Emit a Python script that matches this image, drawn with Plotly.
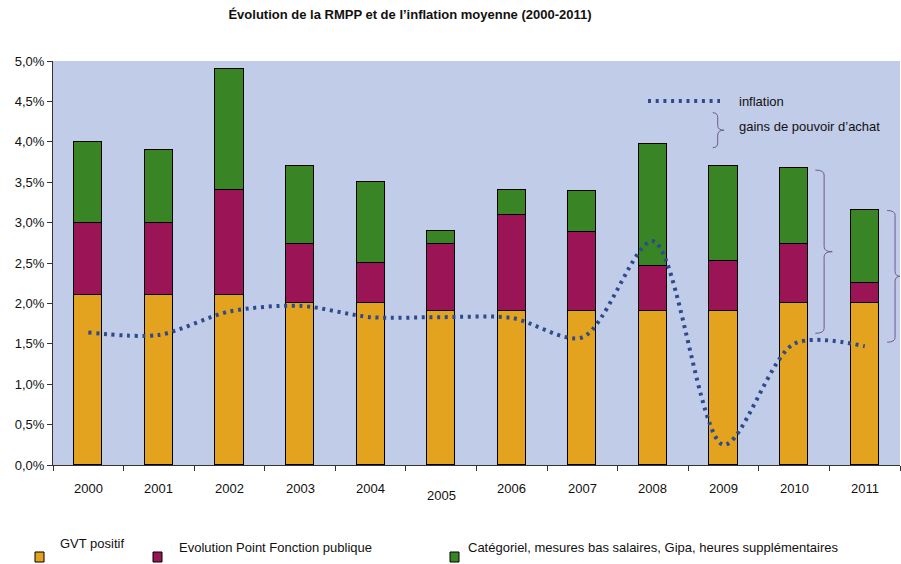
import plotly.graph_objects as go

years = [2000, 2001, 2002, 2003, 2004, 2005, 2006, 2007, 2008, 2009, 2010, 2011]
year_labels = [str(y) for y in years]
gvt = [2.1, 2.1, 2.1, 2.0, 2.0, 1.9, 1.9, 1.9, 1.9, 1.9, 2.0, 2.0]
point_fp = [0.9, 0.9, 1.3, 0.74, 0.5, 0.84, 1.2, 0.98, 0.56, 0.63, 0.73, 0.25]
categoriel = [1.0, 0.9, 1.5, 0.96, 1.0, 0.16, 0.3, 0.51, 1.51, 1.17, 0.94, 0.9]
inflation = [1.64, 1.61, 1.9, 1.97, 1.83, 1.83, 1.82, 1.58, 2.77, 0.25, 1.5, 1.47]
y_ticks = [0, 0.5, 1.0, 1.5, 2.0, 2.5, 3.0, 3.5, 4.0, 4.5, 5.0]
y_tick_labels = ["0,0%", "0,5%", "1,0%", "1,5%", "2,0%", "2,5%", "3,0%", "3,5%", "4,0%", "4,5%", "5,0%"]
series_names = ["GVT positif", "Evolution Point Fonction publique",
                "Catégoriel, mesures bas salaires, Gipa, heures supplémentaires"]
title_text = "Évolution de la RMPP et de l’inflation moyenne (2000-2011)"

C_GVT = "#E3A31E"
C_PT = "#9B1456"
C_CAT = "#398526"
C_INF = "#2E4A8C"
C_BRACE = "#6E5A8E"
BG = "#C1CCE9"
FONT = "Liberation Sans, Arial, sans-serif"

W, H = 901, 564
L, R, T, B = 53, 900, 61, 465  # plot area in page pixels


def px(xp):
    return (xp - L) / (R - L)


def py(yp):
    return (B - yp) / (B - T)


fig = go.Figure()
for vals, col, name in [(gvt, C_GVT, series_names[0]), (point_fp, C_PT, series_names[1]),
                        (categoriel, C_CAT, series_names[2])]:
    fig.add_trace(go.Bar(x=years, y=vals, name=name, width=0.4,
                         marker=dict(color=col, line=dict(color="black", width=1)),
                         showlegend=False))

DOT = "3px,4.7px"
fig.add_trace(go.Scatter(x=years, y=inflation, mode="lines", name="inflation",
                         line=dict(color=C_INF, width=4, dash=DOT, shape="spline", smoothing=0.85),
                         showlegend=False))


def brace(x0, xv, xt, ytop, ybot, r):
    ym = (ytop + ybot) / 2
    return (f"M {x0},{ytop} Q {xv},{ytop} {xv},{ytop - r} L {xv},{ym + r} "
            f"Q {xv},{ym} {xt},{ym} Q {xv},{ym} {xv},{ym - r} L {xv},{ybot + r} "
            f"Q {xv},{ybot} {x0},{ybot}")


shapes = []
shapes.append(dict(type="path", xref="x", yref="y",
                   path=brace(2010.3, 2010.425, 2010.54, 3.65, 1.63, 0.06),
                   line=dict(color=C_BRACE, width=1)))
shapes.append(dict(type="path", xref="x", yref="y",
                   path=brace(2011.318, 2011.43, 2011.51, 3.15, 1.52, 0.06),
                   line=dict(color=C_BRACE, width=1)))
shapes.append(dict(type="path", xref="paper", yref="paper",
                   path=brace(px(712.7), px(717.7), px(724), py(112.7), py(147.7), 0.012),
                   line=dict(color=C_BRACE, width=1)))
shapes.append(dict(type="line", xref="paper", yref="paper",
                   x0=px(648), x1=px(720), y0=py(101), y1=py(101),
                   line=dict(color=C_INF, width=4, dash=DOT)))
for xs, col in [(35, C_GVT), (153, C_PT), (450, C_CAT)]:
    shapes.append(dict(type="rect", xref="paper", yref="paper",
                       x0=px(xs), x1=px(xs + 9), y0=py(552), y1=py(562),
                       fillcolor=col, line=dict(color="black", width=1)))

annotations = []
for yr, lab in zip(years, year_labels):
    yy = 495 if lab == "2005" else 488
    annotations.append(dict(x=yr, y=py(yy), xref="x", yref="paper", text=lab, showarrow=False,
                            xanchor="center", yanchor="middle",
                            font=dict(family=FONT, size=13, color="#111")))
annotations.append(dict(x=px(737), y=py(101), xref="paper", yref="paper", text="inflation",
                        showarrow=False, xanchor="left", yanchor="middle",
                        font=dict(family=FONT, size=13, color="#111")))
annotations.append(dict(x=px(737), y=py(126), xref="paper", yref="paper", text="gains de pouvoir d’achat",
                        showarrow=False, xanchor="left", yanchor="middle",
                        font=dict(family=FONT, size=13, color="#111")))
for xt, yt, txt in [(58, 543, series_names[0]), (177, 547, series_names[1]), (466, 547, series_names[2])]:
    annotations.append(dict(x=px(xt), y=py(yt), xref="paper", yref="paper", text=txt,
                            showarrow=False, xanchor="left", yanchor="middle",
                            font=dict(family=FONT, size=13, color="#111")))

fig.update_layout(
    width=W, height=H,
    margin=dict(l=L, r=W - R, t=T, b=H - B),
    paper_bgcolor="white", plot_bgcolor=BG,
    barmode="stack", bargap=0,
    title=dict(text="<b>" + title_text + "</b>", x=410 / W, xanchor="center",
               y=1 - 14 / H, yanchor="middle", xref="container", yref="container",
               font=dict(family=FONT, size=13, color="#111")),
    xaxis=dict(range=[1999.5, 2011.5], tickvals=[y - 0.5 for y in years] + [2011.5],
               ticktext=[""] * 13, ticks="outside", ticklen=5, tickcolor="#333",
               showline=True, linecolor="#333", linewidth=1, showgrid=False, zeroline=False),
    yaxis=dict(range=[0, 5.0], tickvals=y_ticks, ticktext=y_tick_labels, ticks="outside",
               ticklen=5, tickcolor="#333", showline=True, linecolor="#333", linewidth=1,
               showgrid=False, zeroline=False, tickfont=dict(family=FONT, size=13, color="#111")),
    shapes=shapes, annotations=annotations,
)

fig.write_html("out.html", config={"displayModeBar": False},
               post_script="document.body.style.margin='0px';document.body.style.overflow='hidden';")
